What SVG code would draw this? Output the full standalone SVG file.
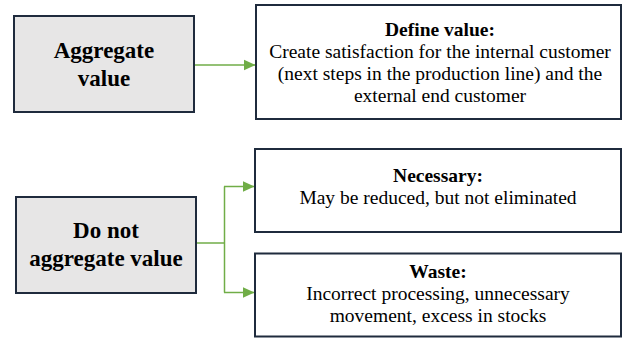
<svg xmlns="http://www.w3.org/2000/svg" width="623" height="338" viewBox="0 0 623 338">
<defs>
<marker id="arr" viewBox="0 0 12 12" refX="12" refY="6" markerWidth="12" markerHeight="12" markerUnits="userSpaceOnUse" orient="auto">
<path d="M0,0.5 L12,6 L0,11.5 Z" fill="#70ad47"/>
</marker>
</defs>
<rect width="623" height="338" fill="#ffffff"/>
<g id="connectors" fill="none" stroke="#70ad47" stroke-width="1.5">
<path d="M195,65 H255.5" marker-end="url(#arr)"/>
<path d="M197,243 H224.5"/>
<path d="M224.5,186.5 V292.5"/>
<path d="M224,186.5 H254.5" marker-end="url(#arr)"/>
<path d="M224,292.5 H254.5" marker-end="url(#arr)"/>
</g>
<g id="nodes" font-family="Liberation Serif" text-anchor="middle" fill="#000">
<g id="aggregate" font-size="23" font-weight="bold">
<rect x="14" y="16" width="180" height="96" fill="#e7e6e6" stroke="#1f2b3d" stroke-width="2"/>
<text x="104" y="58">Aggregate</text>
<text x="104" y="86">value</text>
</g>
<g id="define" font-size="19.5">
<rect x="256" y="5" width="365" height="114" fill="#ffffff" stroke="#1f2b3d" stroke-width="2"/>
<text x="440" y="36" font-weight="bold">Define value:</text>
<text x="440" y="58">Create satisfaction for the internal customer</text>
<text x="440" y="80">(next steps in the production line) and the</text>
<text x="440" y="102">external end customer</text>
</g>
<g id="notaggregate" font-size="23" font-weight="bold">
<rect x="16" y="197" width="180" height="96" fill="#e7e6e6" stroke="#1f2b3d" stroke-width="2"/>
<text x="106" y="238">Do not</text>
<text x="106" y="266">aggregate value</text>
</g>
<g id="necessary" font-size="19.5">
<rect x="255" y="149" width="366" height="83" fill="#ffffff" stroke="#1f2b3d" stroke-width="2"/>
<text x="438" y="182" font-weight="bold">Necessary:</text>
<text x="438" y="204">May be reduced, but not eliminated</text>
</g>
<g id="waste" font-size="19.5">
<rect x="255" y="253.5" width="366" height="83" fill="#ffffff" stroke="#1f2b3d" stroke-width="2"/>
<text x="438" y="278" font-weight="bold">Waste:</text>
<text x="438" y="300">Incorrect processing, unnecessary</text>
<text x="438" y="322">movement, excess in stocks</text>
</g>
</g>
</svg>
